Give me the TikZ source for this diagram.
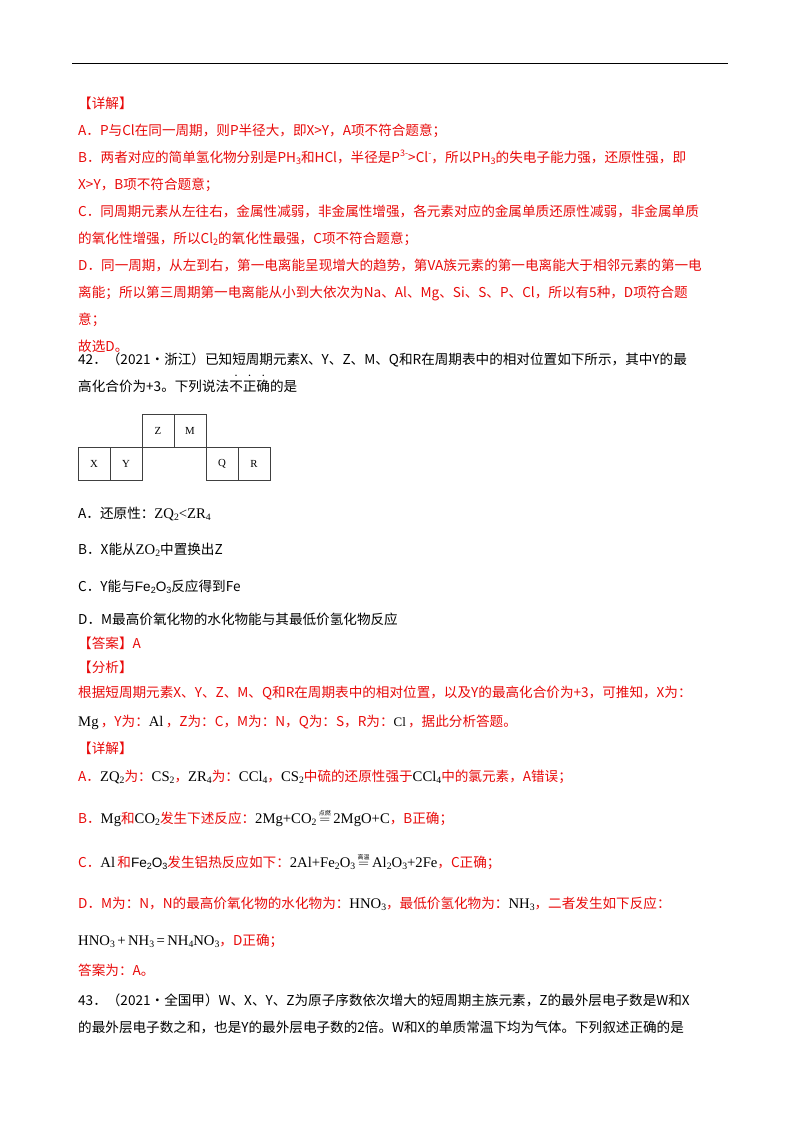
\documentclass[tikz,border=0pt]{standalone}
\usepackage{fontspec}
\setmainfont{Noto Sans CJK SC}
\newfontfamily\tm[Scale=1.08]{Liberation Serif}
\newfontfamily\hv{Liberation Sans}
\definecolor{rd}{RGB}{232,10,10}
\newcommand\dn[1]{\raisebox{-.4ex}{\fontsize{9}{8}\selectfont #1}}
\newcommand\upx[1]{\raisebox{.7ex}{\fontsize{9}{8}\selectfont #1}}
\newcommand\ovr[1]{\ensuremath{\mathrel{\stackrel{\mbox{\fontsize{6}{6}\selectfont #1}}{=}}}}
\newcommand\ed[1]{\leavevmode\rlap{\hbox to 1em{\hss\raisebox{0.95em}{\fontsize{7}{7}\selectfont •}\hss}}#1}
\begin{document}
\begin{tikzpicture}[x=1pt,y=-1pt,
  ln/.style={anchor=base west,inner sep=0pt,font=\fontsize{13.6}{15}\selectfont},
  r/.style={ln,text=rd},
  cell/.style={draw=black!75,line width=0.7pt,minimum width=32pt,minimum height=33pt,inner sep=0pt,font=\tm\fontsize{10}{10}\selectfont}]
\useasboundingbox (0,0) rectangle (800,1132);
\draw[line width=0.8pt] (72,63) -- (728,63);
\node[r] (l1) at (78,108) {【详解】};
\node[r] (l2) at (78,135) {A．P与Cl在同一周期，则P半径大，即X>Y，A项不符合题意；};
\node[r] (l3) at (78,162) {B．两者对应的简单氢化物分别是PH\dn{3}和HCl，半径是P\upx{3-}>Cl\upx{-}，所以PH\dn{3}的失电子能力强，还原性强，即};
\node[r] (l4) at (78,189) {X>Y，B项不符合题意；};
\node[r] (l5) at (78,216) {C．同周期元素从左往右，金属性减弱，非金属性增强，各元素对应的金属单质还原性减弱，非金属单质};
\node[r] (l6) at (78,243) {的氧化性增强，所以Cl\dn{2}的氧化性最强，C项不符合题意；};
\node[r] (l7) at (78,270) {D．同一周期，从左到右，第一电离能呈现增大的趋势，第VA族元素的第一电离能大于相邻元素的第一电};
\node[r] (l8) at (78,297) {离能；所以第三周期第一电离能从小到大依次为Na、Al、Mg、Si、S、P、Cl，所以有5种，D项符合题};
\node[r] (l9) at (78,324) {意；};
\node[r] (l10) at (78,351) {故选D。};
\node[ln] (q1) at (78,364) {42．（2021·浙江）已知短周期元素X、Y、Z、M、Q和R在周期表中的相对位置如下所示，其中Y的最};
\node[ln] (q2) at (78,391) {高化合价为+3。下列说法\ed{不}\ed{正}\ed{确}的是};
\node[cell] (cX) at (94,464) {X};
\node[cell] (cY) at (126,464) {Y};
\node[cell] (cZ) at (158,431) {Z};
\node[cell] (cM) at (190,431) {M};
\node[cell] (cQ) at (222,464) {Q};
\node[cell] (cR) at (254,464) {R};
\node[ln] (oA) at (78,518) {A．还原性：{\tm ZQ\dn{2}<ZR\dn{4}}};
\node[ln] (oB) at (78,554) {B．X能从{\tm ZO\dn{2}}中置换出Z};
\node[ln] (oC) at (78,591) {C．Y能与{\hv Fe\dn{2}O\dn{3}}反应得到Fe};
\node[ln] (oD) at (78,624) {D．M最高价氧化物的水化物能与其最低价氢化物反应};
\node[r] (an) at (78,648) {【答案】A};
\node[r] (fx) at (78,672) {【分析】};
\node[r] (f1) at (78,697) {根据短周期元素X、Y、Z、M、Q和R在周期表中的相对位置，以及Y的最高化合价为+3，可推知，X为：};
\node[r] (f2) at (78,726) {\textcolor{black}{\tm Mg}\,，Y为：\textcolor{black}{\tm Al}\,，Z为：C，M为：N，Q为：S，R为：\textcolor{black}{\tm\large Cl}\,，据此分析答题。};
\node[r] (xj) at (78,753) {【详解】};
\node[r] (d1) at (78,781) {A．\textcolor{black}{\tm ZQ\dn{2}}为：\textcolor{black}{\tm CS\dn{2}}，\textcolor{black}{\tm ZR\dn{4}}为：\textcolor{black}{\tm CCl\dn{4}}，\textcolor{black}{\tm CS\dn{2}}中硫的还原性强于\textcolor{black}{\tm CCl\dn{4}}中的氯元素，A错误；};
\node[r] (d2) at (78,823) {B．\textcolor{black}{\tm Mg}和\textcolor{black}{\tm CO\dn{2}}发生下述反应：\textcolor{black}{\tm 2Mg+CO\dn{2}\,\ovr{\rmfamily 点燃}\,2MgO+C}，B正确；};
\node[r] (d3) at (78,867) {C．\textcolor{black}{\tm Al}\,和\textcolor{black}{\hv Fe\dn{2}O\dn{3}}发生铝热反应如下：\textcolor{black}{\tm 2Al+Fe\dn{2}O\dn{3}\,\ovr{\rmfamily 高温}\,Al\dn{2}O\dn{3}+2Fe}，C正确；};
\node[r] (d4) at (78,908) {D．M为：N，N的最高价氧化物的水化物为：\textcolor{black}{\tm HNO\dn{3}}，最低价氢化物为：\textcolor{black}{\tm NH\dn{3}}，二者发生如下反应：};
\node[r] (d5) at (78,945) {\textcolor{black}{\tm HNO\dn{3}\,+\,NH\dn{3}\,=\,NH\dn{4}NO\dn{3}}，D正确；};
\node[r] (d6) at (78,975) {答案为：A。};
\node[ln] (w1) at (78,1005) {43．（2021·全国甲）W、X、Y、Z为原子序数依次增大的短周期主族元素，Z的最外层电子数是W和X};
\node[ln] (w2) at (78,1032) {的最外层电子数之和，也是Y的最外层电子数的2倍。W和X的单质常温下均为气体。下列叙述正确的是};
\end{tikzpicture}
\end{document}
